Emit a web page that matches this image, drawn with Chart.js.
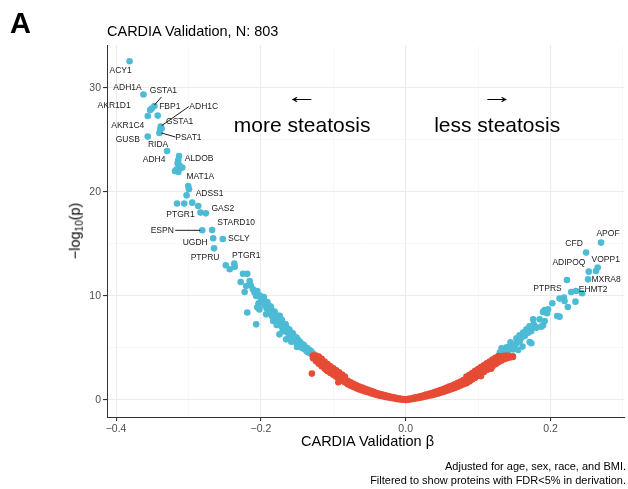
<!DOCTYPE html>
<html>
<head>
<meta charset="utf-8">
<script src="https://cdn.jsdelivr.net/npm/chart.js@4.4.1/dist/chart.umd.min.js"></script>
<style>
body{margin:0;background:#fff;}
#fig{position:relative;width:628px;height:489px;overflow:hidden;background:#fff;font-family:"Liberation Sans",Arial,Helvetica,sans-serif;color:#000;}
#idGrafica{position:absolute;left:0;top:0;}
.txt{position:absolute;white-space:nowrap;line-height:1;}
#letra{left:10px;top:9px;font-size:29px;font-weight:bold;}
#titulo{left:107px;top:24px;font-size:14.5px;}
#tituloX{left:107px;width:521px;top:434px;font-size:14.5px;text-align:center;}
#tituloY{left:75px;top:231px;font-size:14.5px;transform:translate(-50%,-50%) rotate(-90deg);}
#tituloY sub{font-size:10px;vertical-align:-3px;line-height:0;}
.nota{right:2px;font-size:11px;text-align:right;}
</style>
</head>
<body>
<div id="fig">
  <canvas id="idGrafica" width="628" height="489"></canvas>
  <div class="txt" id="letra">A</div>
  <div class="txt" id="titulo">CARDIA Validation, N: 803</div>
  <div class="txt" id="tituloX">CARDIA Validation β</div>
  <div class="txt" id="tituloY">−log<sub>10</sub>(p)</div>
  <div class="txt nota" style="top:461px">Adjusted for age, sex, race, and BMI.</div>
  <div class="txt nota" style="top:475px">Filtered to show proteins with FDR&lt;5% in derivation.</div>
</div>
<script>
// ejes
const xTicks=[-0.4,-0.3,-0.2,-0.1,0,0.1,0.2,0.3];
const xTickLabels=['\u22120.4','','\u22120.2','','0.0','','0.2',''];
const yTicks=[0,5,10,15,20,25,30];
const yTickLabels=['0','','10','','20','','30'];

// proteinas con nombre (beta, -log10 p)
const geneNames=['ACY1','ADH1A','GSTA1','AKR1D1','FBP1','ADH1C','AKR1C4','GSTA1','PSAT1','GUSB','RIDA','ADH4','ALDOB','MAT1A','ADSS1','GAS2','PTGR1','STARD10','ESPN','UGDH','SCLY','PTPRU','PTGR1',
  'APOF','CFD','VOPP1','ADIPOQ','MXRA8','EHMT2','PTPRS'];
const geneBeta=[-0.3813,-0.3621,-0.3470,-0.3529,-0.3424,-0.3383,-0.3562,-0.3370,-0.3401,-0.3562,-0.3295,-0.3185,-0.3130,-0.3003,-0.3026,-0.2760,-0.2834,-0.2673,-0.2810,-0.2659,-0.2526,-0.2646,-0.2367,
  0.2698,0.2492,0.2652,0.2227,0.2519,0.2437,0.2125];
const geneLogP=[32.54,29.34,28.24,27.86,27.32,26.26,27.28,26.07,25.65,25.30,23.92,22.00,23.44,20.56,19.66,17.93,18.00,16.33,16.30,15.53,15.47,14.57,13.10,
  15.12,14.16,12.72,11.53,11.59,10.25,9.74];

// resto de proteinas significativas (azul), lado izquierdo
const blueLeft=[
  [-0.3507,27.99],[-0.3391,25.94],
  [-0.3140,23.05],[-0.3150,22.74],[-0.3126,22.55],[-0.3085,22.33],[-0.3163,22.16],[-0.3117,22.23],[-0.3140,21.90],
  [-0.2993,20.24],[-0.3158,18.87],[-0.3058,18.87],[-0.2948,18.96],[-0.2865,18.64],
  [-0.2485,12.94],[-0.2430,12.56],[-0.2361,12.81],
  [-0.2247,12.12],[-0.2188,12.12],[-0.2279,11.34],[-0.2155,11.43],[-0.2141,11.02],[-0.2202,10.95],[-0.2110,10.63],
  [-0.2224,10.37],[-0.2087,10.32],[-0.2051,10.47],[-0.2018,10.06],[-0.2065,9.99],[-0.1996,9.67],[-0.2032,9.29],
  [-0.2188,8.40],[-0.2065,7.27],[-0.2050,8.90],[-0.2020,8.70],[-0.1927,8.23],[-0.1743,6.31],[-0.1652,5.83],
  [-0.200,9.9],[-0.198,9.3],[-0.196,9.6],[-0.195,9.1],[-0.193,9.4],[-0.192,8.8],[-0.190,9.0],[-0.189,8.5],[-0.188,8.7],
  [-0.186,8.4],[-0.185,8.1],[-0.184,8.5],[-0.182,7.9],[-0.181,8.2],[-0.180,7.7],[-0.179,8.0],[-0.177,7.5],[-0.176,7.8],
  [-0.175,7.3],[-0.173,7.6],[-0.172,7.1],[-0.171,7.4],[-0.169,6.9],[-0.168,7.2],[-0.167,6.7],[-0.165,7.0],[-0.164,6.5],
  [-0.163,6.8],[-0.161,6.3],[-0.160,6.6],[-0.159,6.1],[-0.157,6.4],[-0.156,5.9],[-0.155,6.2],[-0.153,5.7],[-0.152,6.0],
  [-0.151,5.5],[-0.149,5.8],[-0.148,5.3],[-0.147,5.6],[-0.145,5.2],[-0.144,5.4],[-0.143,5.0],[-0.141,5.3],[-0.140,4.9],
  [-0.139,5.1],[-0.137,4.7],[-0.136,5.0],[-0.135,4.6],[-0.133,4.8],[-0.132,4.5],[-0.131,4.7],[-0.130,4.4],[-0.128,4.5],
  [-0.183,7.6],[-0.178,7.2],[-0.170,6.6],[-0.158,5.6],[-0.150,5.1],[-0.174,8.1],[-0.187,9.0],[-0.166,7.3],
  [-0.196,9.9],[-0.191,9.4],[-0.186,8.9],[-0.181,8.5],[-0.176,8.1],[-0.171,7.7],[-0.166,7.2],[-0.161,6.8],[-0.156,6.4],
  [-0.151,6.0],[-0.146,5.6],[-0.141,5.2],[-0.136,4.9]
];
// lado derecho
const blueRight=[
  [0.1622,6.47],[0.1644,6.15],[0.1599,5.99],[0.1713,5.57],[0.1736,5.45],[0.1576,5.67],[0.1530,5.45],[0.1507,5.19],
  [0.1438,5.13],[0.1485,4.87],[0.1416,4.71],[0.1348,4.71],[0.1370,4.55],[0.1301,4.55],[0.1553,4.80],[0.1613,5.13],
  [0.1393,5.06],[0.1571,6.21],[0.1668,6.79],[0.1709,7.08],[0.1530,5.93],[0.1448,5.54],[0.1324,4.97],
  [0.1760,7.75],[0.1850,7.75],[0.1920,7.59],[0.1768,7.27],[0.1897,7.18],[0.1805,6.95],[0.1874,7.05],[0.1736,6.63],
  [0.1691,6.47],[0.1782,7.11],
  [0.1919,8.65],[0.1966,8.71],[0.1897,8.45],[0.1952,8.33],[0.2093,8.07],[0.2125,8.01],
  [0.2185,9.84],[0.2194,9.51],[0.2345,9.45],[0.2240,8.93],[0.2025,9.29],
  [0.2354,10.47],[0.2286,10.37],[0.2629,12.39],[0.2529,12.33]
];

// no significativas (rojo)
const redLeft=[
  [-0.128,4.28],[-0.128,4.02],[-0.124,4.15],[-0.124,3.74],[-0.124,4.27],
  [-0.120,3.88],[-0.120,3.48],[-0.120,4.18],[-0.116,3.62],[-0.116,3.25],[-0.116,3.95],
  [-0.112,3.40],[-0.112,3.02],[-0.112,3.70],[-0.108,3.17],[-0.108,2.80],[-0.108,3.45],
  [-0.104,2.97],[-0.104,2.60],[-0.104,3.25],[-0.100,2.80],[-0.100,2.42],[-0.100,3.05],
  [-0.096,2.60],[-0.096,2.24],[-0.096,2.85],[-0.092,2.42],[-0.092,2.06],[-0.092,2.66],
  [-0.088,2.22],[-0.088,1.88],[-0.088,2.45],[-0.084,2.03],[-0.084,1.70],[-0.084,2.25],
  [-0.080,1.85],[-0.080,1.52],[-0.076,1.70],[-0.076,1.38],[-0.072,1.55],[-0.072,1.25],
  [-0.068,1.41],[-0.068,1.12],[-0.064,1.30],[-0.064,1.02],[-0.060,1.19],[-0.060,0.92],
  [-0.056,1.08],[-0.056,0.83],[-0.052,0.98],[-0.052,0.74],[-0.048,0.88],[-0.048,0.66],
  [-0.044,0.78],[-0.044,0.57],[-0.040,0.68],[-0.040,0.49],[-0.036,0.60],[-0.036,0.42],
  [-0.032,0.53],[-0.032,0.36],[-0.028,0.46],[-0.028,0.30],[-0.024,0.39],[-0.024,0.25],
  [-0.020,0.32],[-0.020,0.19],[-0.016,0.26],[-0.016,0.14],[-0.012,0.19],[-0.012,0.09],
  [-0.008,0.14],[-0.008,0.05],[-0.004,0.09],[-0.004,0.02],[0.000,0.06],[0.000,0.00],
  [-0.1295,2.54],[-0.0930,1.70],[-0.1100,2.90],[-0.0780,1.50]
];
const redRight=[
  [0.004,0.11],[0.004,0.03],[0.008,0.16],[0.008,0.07],[0.012,0.23],[0.012,0.12],[0.016,0.29],[0.016,0.17],
  [0.020,0.37],[0.020,0.23],[0.024,0.44],[0.024,0.28],[0.028,0.52],[0.028,0.34],[0.032,0.60],[0.032,0.41],
  [0.036,0.68],[0.036,0.47],[0.040,0.77],[0.040,0.54],[0.044,0.86],[0.044,0.61],[0.048,0.96],[0.048,0.69],
  [0.052,1.06],[0.052,0.78],[0.056,1.17],[0.056,0.87],[0.060,1.29],[0.060,0.97],[0.064,1.40],[0.064,1.06],
  [0.068,1.52],[0.068,1.16],[0.072,1.65],[0.072,1.27],[0.076,1.78],[0.076,1.39],[0.080,1.92],[0.080,1.51],
  [0.084,2.06],[0.084,1.62],[0.084,2.26],[0.088,2.24],[0.088,1.79],[0.088,2.42],[0.092,2.43],[0.092,1.97],[0.092,2.60],
  [0.096,2.62],[0.096,2.15],[0.096,2.80],[0.100,2.80],[0.100,2.33],[0.100,2.98],[0.104,2.98],[0.104,2.51],[0.104,3.16],
  [0.108,3.17],[0.108,2.70],[0.108,3.34],[0.112,3.36],[0.112,2.88],[0.112,3.52],[0.116,3.54],[0.116,3.07],[0.116,3.70],
  [0.120,3.73],[0.120,3.25],[0.120,3.88],[0.124,3.92],[0.124,3.44],[0.124,4.05],[0.128,4.08],[0.128,3.62],[0.128,4.22],
  [0.132,4.20],[0.132,3.78],[0.136,4.26],[0.136,3.92],[0.140,4.28],[0.140,4.02],[0.144,4.18],[0.144,4.08],[0.148,4.20],[0.148,4.14],
  [0.104,2.30],[0.118,3.00]
];

// posicion de cada etiqueta respecto a su punto (px) y lineas guia
const labelOffsets=[[-9,9],[-16,-7],[9,-15],[-36,-4],[12,-9],[43,-20],[-20,10],[18,-7],[29,5],[-20,3],[-9,-6],[-21,-11],[20,3],[12,-9],[23,-2],[17,-5],[-20,2],[24,-7],[-40,0],[-18,4],[16,0],[-9,9],[12,-8],
  [7,-9],[-12,-9],[8,-8],[2,-17],[18,0],[11,-4],[-12,-10]];
const labelLines={2:[0,-1,7,-9],5:[1,-1,28,-20],8:[2,0,16,4],18:[-27,0,-2,0]};

const toPts=function(arr){ return arr.map(function(p){ return {x:p[0],y:p[1]}; }); };
let bluePts=toPts(blueLeft).concat(toPts(blueRight));
for(let i in geneNames){ bluePts.push({x:geneBeta[i],y:geneLogP[i]}); }
const redPts=toPts(redLeft).concat(toPts(redRight));

const fuente='"Liberation Sans", Arial, Helvetica, sans-serif';

// flecha de texto algo estirada en horizontal
const flecha=function(c,txt,x,y){
  c.save();
  c.translate(x,y);
  c.scale(1.55,1);
  c.fillText(txt,0,0);
  c.restore();
};

const textosPlugin={
  id:'textos',
  afterDatasetsDraw:function(chart){
    const c=chart.ctx, sx=chart.scales.x, sy=chart.scales.y;
    c.save();
    c.fillStyle='#000';
    c.textAlign='center';
    c.textBaseline='middle';
    // flechas y direccion del efecto
    c.font='21px '+fuente;
    flecha(c,'\u2190',sx.getPixelForValue(-0.143),sy.getPixelForValue(29.1));
    flecha(c,'\u2192',sx.getPixelForValue(0.1264),sy.getPixelForValue(29.1));
    c.fillText('more steatosis',sx.getPixelForValue(-0.143),sy.getPixelForValue(26.3));
    c.fillText('less steatosis',sx.getPixelForValue(0.1264),sy.getPixelForValue(26.3));
    // etiquetas de proteinas
    c.font='8.5px '+fuente;
    c.fillStyle='#1a1a1a';
    c.strokeStyle='#000';
    c.lineWidth=0.9;
    for(let i=0;i<geneNames.length;i++){
      const px=sx.getPixelForValue(geneBeta[i]), py=sy.getPixelForValue(geneLogP[i]);
      if(labelLines[i]){
        const l=labelLines[i];
        c.beginPath();
        c.moveTo(px+l[0],py+l[1]);
        c.lineTo(px+l[2],py+l[3]);
        c.stroke();
      }
      c.fillText(geneNames[i],px+labelOffsets[i][0],py+labelOffsets[i][1]);
    }
    c.restore();
  }
};

const esMayor=function(v,paso){ return Math.abs(Math.round(v/paso)*paso-v)<1e-9; };

var ctx=document.getElementById('idGrafica').getContext('2d');
var mychart=new Chart(ctx,{
  type:'scatter',
  data:{
    datasets:[
      {label:'FDR>5%',data:redPts,backgroundColor:'#E64B35',pointRadius:3.3,borderWidth:0,pointHoverRadius:3.3},
      {label:'FDR<5%',data:bluePts,backgroundColor:'#4DBBD5',pointRadius:3.3,borderWidth:0,pointHoverRadius:3.3}
    ]
  },
  options:{
    responsive:false,
    animation:false,
    devicePixelRatio:1,
    events:[],
    layout:{padding:{top:45,left:0,right:0,bottom:0}},
    plugins:{legend:{display:false},tooltip:{enabled:false},title:{display:false}},
    scales:{
      x:{
        type:'linear',min:-0.4125,max:0.3025,
        afterBuildTicks:function(s){ s.ticks=xTicks.map(function(v){return {value:v};}); },
        afterFit:function(s){ s.height=72; },
        ticks:{
          autoSkip:false,maxRotation:0,padding:2,color:'#4D4D4D',
          font:{family:fuente,size:10.5},
          callback:function(v,i){ return xTickLabels[i]; }
        },
        grid:{
          color:function(c){ return esMayor(c.tick.value,0.2)?'#EBEBEB':'#F3F3F3'; },
          lineWidth:function(c){ return esMayor(c.tick.value,0.2)?1.1:0.6; },
          tickColor:function(c){ return esMayor(c.tick.value,0.2)?'#333333':'rgba(0,0,0,0)'; },
          tickLength:4
        },
        border:{display:true,color:'#333333',width:1}
      },
      y:{
        type:'linear',min:-1.63,max:34.1,
        afterBuildTicks:function(s){ s.ticks=yTicks.map(function(v){return {value:v};}); },
        afterFit:function(s){ s.width=107; },
        ticks:{
          autoSkip:false,padding:2,color:'#4D4D4D',
          font:{family:fuente,size:10.5},
          callback:function(v,i){ return yTickLabels[i]; }
        },
        grid:{
          color:function(c){ return esMayor(c.tick.value,10)?'#EBEBEB':'#F3F3F3'; },
          lineWidth:function(c){ return esMayor(c.tick.value,10)?1.1:0.6; },
          tickColor:function(c){ return esMayor(c.tick.value,10)?'#333333':'rgba(0,0,0,0)'; },
          tickLength:4
        },
        border:{display:true,color:'#333333',width:1}
      }
    }
  },
  plugins:[textosPlugin]
});
</script>
</body>
</html>
